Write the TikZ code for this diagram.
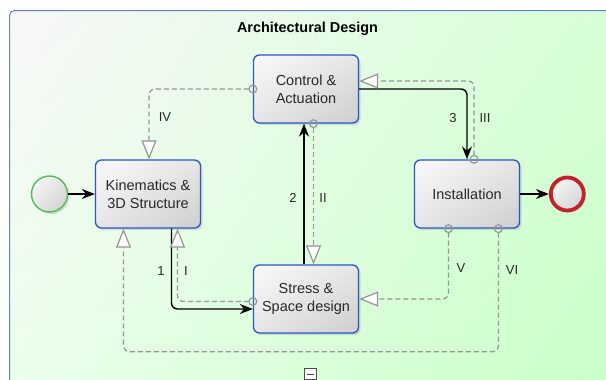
\documentclass[tikz,border=0pt]{standalone}
\usepackage{fontspec}
\setmainfont{Liberation Sans}
\usetikzlibrary{arrows.meta,calc,shadows,shadings}

\definecolor{taskblue}{RGB}{45,85,200}
\definecolor{poolblue}{RGB}{100,130,210}
\definecolor{msggray}{RGB}{150,150,150}
\definecolor{startgreen}{RGB}{80,190,80}
\definecolor{endred}{RGB}{195,35,40}
\definecolor{textgray}{RGB}{40,40,40}

\tikzset{
  task/.style={draw=taskblue, line width=1.3pt, rounded corners=6pt,
    minimum width=105pt, minimum height=68pt, align=center,
    upper left=gray!4, upper right=gray!20, lower left=gray!20, lower right=gray!38,
    drop shadow={shadow xshift=2pt, shadow yshift=-2pt, opacity=0.25},
    font=\fontsize{14.5}{18}\selectfont, text=textgray},
  event/.style={circle, inner sep=0pt,
    upper left=gray!4, upper right=gray!20, lower left=gray!20, lower right=gray!38,
    drop shadow={shadow xshift=2pt, shadow yshift=-2pt, opacity=0.25}},
  flow/.style={draw=black, line width=1.4pt, rounded corners=6pt,
    -{Stealth[length=13pt,width=10pt]}},
  msg/.style={draw=msggray, line width=1.2pt, dash pattern=on 5pt off 3pt,
    rounded corners=6pt,
    {Circle[open,length=9pt,width=9pt]}-{Triangle[open,length=19pt,width=15pt,fill=white]}},
  lbl/.style={font=\fontsize{13}{15}\selectfont, text=textgray},
}

\begin{document}
\begin{tikzpicture}[x=1pt, y=-1pt]

    % Fix the page to the size of the reference
    \useasboundingbox (0,0) rectangle (606,380);

    % Draw the pool with its green gradient
    \shade[draw=poolblue, line width=1pt, rounded corners=5pt,
      upper left=white!97!black, upper right=green!16,
      lower left=green!8, lower right=green!22]
      (9.5,10.5) rectangle (625,400);

    % Title of the pool
    \node[font=\fontsize{14.4}{16}\selectfont\bfseries, anchor=base] (title)
      at (307.5,32.3) {Architectural Design};

    % Place the four tasks
    \node[task] (ctrl) at (306,89) {Control \&\\Actuation};
    \node[task] (kin) at (148,194) {Kinematics \&\\3D Structure};
    \node[task] (inst) at (467,194) {Installation};
    \node[task] (stress) at (306,299) {Stress \&\\Space design};

    % Start and end events
    \node[event, draw=startgreen, line width=1.4pt, minimum size=36pt] (start) at (49.5,194) {};
    \node[event, draw=endred, line width=3.8pt, minimum size=33pt] (end) at (567.3,194) {};

    % Sequence flows
    \draw[flow, line width=1.3pt] (start) -- (kin);
    \draw[flow, line width=1.3pt] (inst) -- (end);
    \draw[flow] ($(kin.south)+(23.5,0)$) |- ($(stress.west)+(0,10)$);
    \draw[flow] ($(stress.north)+(-2,0)$) -- ($(ctrl.south)+(-2,0)$);
    \draw[flow] (ctrl.east) -| (inst.north);

    % Message flows (dashed)
    \draw[msg] ($(stress.west)+(4.5,2.5)$) -| ($(kin.south)+(29.5,0)$);
    \draw[msg] ($(ctrl.south)+(7.5,-4.5)$) -- ($(stress.north)+(7.5,0)$);
    \draw[msg] ($(inst.north)+(7,4.5)$) |- ($(ctrl.east)+(0,-8)$);
    \draw[msg] ($(ctrl.west)+(4.5,0)$) -| ($(kin.north)+(1,0)$);
    \draw[msg] ($(inst.south)+(-18.5,-4.5)$) |- (stress.east);
    \draw[msg] ($(inst.south)+(31.5,-4.5)$) -- ++(0,127.5) -| ($(kin.south)+(-24.5,0)$);

    % Labels of the flows
    \node[lbl] (lone) at (161,271) {1};
    \node[lbl] (lI) at (186,271) {I};
    \node[lbl] (ltwo) at (293,198) {2};
    \node[lbl] (lII) at (323,198) {II};
    \node[lbl] (lthree) at (453,118) {3};
    \node[lbl] (lIII) at (485,118) {III};
    \node[lbl] (lIV) at (165,117) {IV};
    \node[lbl] (lV) at (461,268) {V};
    \node[lbl] (lVI) at (512,270) {VI};

    % Collapse marker of the pool
    \draw[draw=black!70, fill=white, line width=0.8pt] (304,368) rectangle (316,379.5);
    \draw[black!70, line width=0.9pt] (306.5,374) -- (313.5,374);

\end{tikzpicture}
\end{document}
